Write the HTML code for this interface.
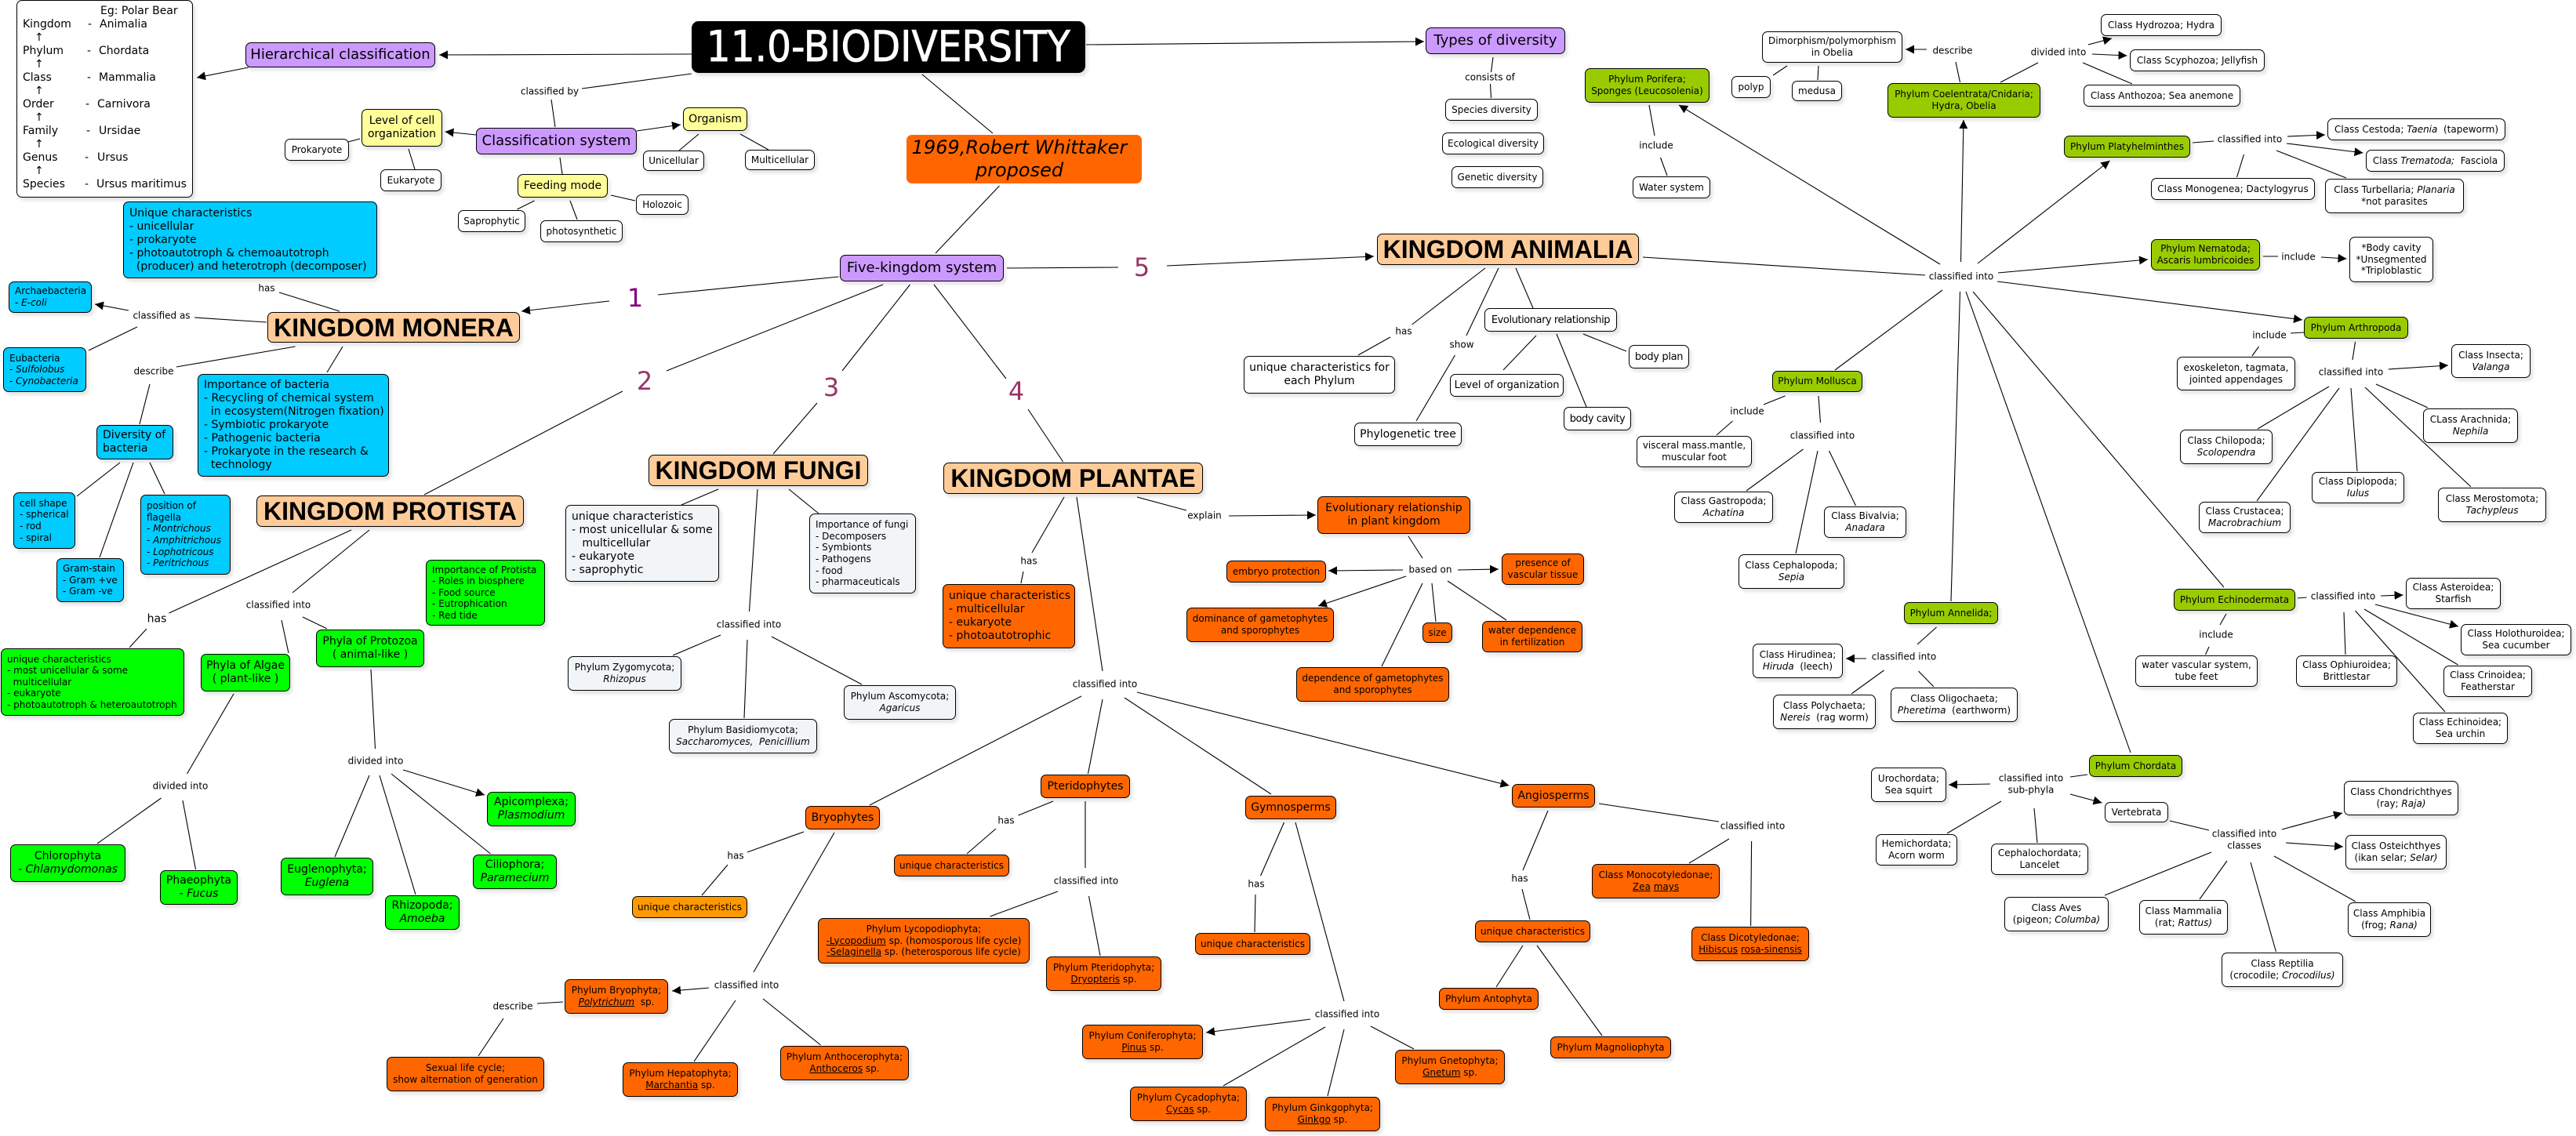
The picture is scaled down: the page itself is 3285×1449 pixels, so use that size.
<!DOCTYPE html>
<html lang="en"><head><meta charset="utf-8"><title>11.0-BIODIVERSITY</title>
<style>
html,body{margin:0;padding:0;background:#fff}
#c{position:relative;width:3285px;height:1449px;overflow:hidden;background:#fff;font:12px/14.6px "DejaVu Sans","Liberation Sans",sans-serif;color:#000}
svg{position:absolute;left:0;top:0}
.n{position:absolute;box-sizing:border-box;border:1px solid #000;border-radius:7px;box-shadow:3px 4px 4px rgba(0,0,0,.11);display:flex;align-items:center;justify-content:center;text-align:center;white-space:nowrap;background:#fff}
.n p{margin:0}
.L{justify-content:flex-start;text-align:left;padding-left:7px}
.f14{font-size:14px;line-height:17px}
.f13{font-size:13px;line-height:17px}
.f18{font-size:18px;line-height:22px}
.k{font:bold 32px/38px "Liberation Sans",sans-serif;background:#FFCC99}
.pu{background:#CC99FF}.ye{background:#FFFF99}.bl{background:#00CCFF}.gr{background:#00FF00}.or{background:#FF6600}.li{background:#99CC00}.go{background:#FF9900}.gy{background:#F1F5F7}
.l{position:absolute;transform:translate(-50%,-50%);white-space:nowrap;text-align:center;background:transparent}
.d{position:absolute;transform:translate(-50%,-50%);font-size:32px;line-height:36px;color:#993366}
.r{position:absolute;left:29px;font-size:14px;line-height:17px;white-space:nowrap}
.r span{position:absolute;top:0}
</style></head><body><div id="c">
<svg width="3285" height="1449" viewBox="0 0 3285 1449" fill="none" stroke="#000" stroke-width="1.1">
<defs><marker id="a" markerUnits="userSpaceOnUse" markerWidth="12" markerHeight="12" refX="11" refY="5.5" orient="auto"><path d="M0 0L11 5.5 0 11z" fill="#000" stroke="none"/></marker></defs>
<path d="M882 94L742 113M703 127L708 162M459 177L444 181M521 190L529 216M714 201L717 222M681.5 256L659.5 267M727 256L736 280M779 249L810 256M891 171L866 192M944 171L980 191M1176 95L1266 170M1274.5 237L1193 323M1284 342L1426 341M1069.5 353L839 376M1126 363L850 473M794 499L541 631M1160.5 363L1074 473M1042 514L986 579M1191 363L1283 483M1311 522L1355.6 589
M433 397L356 373M340 411L248 405M175 417L113 447M376.5 442L225 468M437 442L417 475M191 490L178 541M153 590L98 633M170 590L127 711M191 590L210 630
M448 676L215.5 782M187 802L165 826M471 676L373 756M359 791L368 833M386 787L417 802M298 885L238.5 987M473 854L478.5 955M205.5 1018L124 1076M233 1021L249.5 1109M471 989L427 1093M484 989L530 1141M499 987L625.5 1089
M916 624L869 644M966 624L955.5 780M1006 624L1044 655M919 810L858 836M953 816L949 916M984 812L1099 873
M1357 634L1316 705M1305 729L1302 744M1373 634L1406 856M1450 634L1513 651M1796 684L1814 712M1814 744L1762 850M1826 744L1831 793M1846 741L1921 791
M1379 888L1109 1027M1406 892L1387.5 987M1434 890L1621 1013
M1025 1061L953 1087M928 1103L895 1142M1064 1062L961 1240M938 1276L885 1354M973 1274L1046.5 1333M718 1278L685 1280M642 1299L610 1347
M1343 1022L1298.5 1040M1270 1057L1233 1089M1384 1022L1384 1107M1349 1137L1262.5 1169M1388.5 1143L1403 1219
M1637.5 1049L1607.6 1117M1601 1141L1600 1189M1652 1049L1714 1277M1690 1310L1560 1385M1714 1313L1693 1398M1748 1309L1803 1338
M1974 1034L1942 1110M1941 1134L1951 1173M1942 1206L1908 1259M1960 1206L2043 1321M2039 1025L2192 1048M2205 1070L2154 1101M2233.6 1073L2232.6 1181
M1894 342L1800.6 414M1773 430L1732 453M1911 342L1870 428M1855.5 453L1806 537M1933 342L1955 393M1959 428L1917 472M1985 426L2023 519M2019 426L2074 448M2095 328L2455 351
M1904 73L1901.5 92M1900.5 107L1901.5 125M2103 134L2110 173M2117.5 201L2126 224
M2477 370L2340 472M2499.5 372L2488 767M2507 372L2717 960M2516 372L2836 749
M2499.5 105L2494 79M2279 84L2261 96M2319 84L2318 102M2551 105L2599 80M2656 80L2719 107
M2796 182L2823 180M2861.5 197L2852.5 226M2903 192L2992 227M2886 327L2905 327M2938 424L2921 425M2880.5 442L2872 454M3003.5 436L3000 459
M3030 490L3096 520M2970 493L2879 547M2983 495L2878 639M2998 495L3006 601M3016 494L3151 621
M2930 763L2941.5 762M2989 781L2991 835M3015 777L3134.5 848M3003.5 779L3118 908M2839 783L2831 797M2817 825L2812.5 835
M2276.5 505L2249 516M2209.5 537L2189 555M2319 505L2321.5 539M2299.5 573L2227 626M2318 575L2290 706M2332.5 575L2366.5 645
M2469.5 800L2445 822M2402.5 855L2361 885M2446.5 856L2466 876
M2662 988L2640 991M2552 1022L2483 1063M2594 1031L2598 1075M2767 1047L2817 1059M2820 1087L2684 1142M2840 1098L2805 1147M2870 1100L2902.5 1214M2900 1092L3004 1150"/>
<g marker-end="url(#a)">
<path d="M882 69L560 70"/><path d="M317 86L251 99"/><path d="M607 172L567.5 168"/><path d="M812 167L868 159"/>
<path d="M1488 339L1752 327"/><path d="M1385 57L1816 53"/><path d="M777 384L665 397"/><path d="M164 396L121 388"/><path d="M514 982L618 1014"/>
<path d="M1567 658L1678 657"/><path d="M1789 727L1694 728"/><path d="M1859 727L1911 726"/><path d="M1793 735L1681 773"/>
<path d="M1450 883L1924.5 1002"/><path d="M904 1260L857 1264"/><path d="M1671 1300L1538 1317"/>
<path d="M2474 337L2141 134"/><path d="M2500.5 334L2504 153"/><path d="M2522 336L2690.5 205"/><path d="M2548 348L2739 331"/><path d="M2547 359L2936 408"/>
<path d="M2457 63L2430 63"/><path d="M2663 57L2693 49"/><path d="M2668 69L2712.5 71"/><path d="M2917 174L2965 172"/><path d="M2916 183L3013.5 195"/><path d="M2960 328L2992.5 330"/><path d="M3045.6 471L3122 466"/>
<path d="M3036 760L3064.6 759"/><path d="M3029 771L3135 799"/><path d="M2380 840L2354 840"/><path d="M2538 1000L2485 1001"/><path d="M2640 1013L2680.5 1024"/><path d="M2910 1058L2987 1037"/><path d="M2915 1075L2988 1080"/>
</g>
</svg>

<div class="n" style="left:21px;top:0;width:225px;height:252px"></div>
<div class="r" style="top:6px;left:128px">Eg: Polar Bear</div>
<div class="r" style="top:23px">Kingdom<span style="left:83px">-</span><span style="left:98px">Animalia</span></div>
<div class="r" style="top:40px;left:44px">↑</div>
<div class="r" style="top:57px">Phylum<span style="left:82px">-</span><span style="left:97px">Chordata</span></div>
<div class="r" style="top:74px;left:44px">↑</div>
<div class="r" style="top:91px">Class<span style="left:82px">-</span><span style="left:97px">Mammalia</span></div>
<div class="r" style="top:108px;left:44px">↑</div>
<div class="r" style="top:125px">Order<span style="left:80px">-</span><span style="left:95px">Carnivora</span></div>
<div class="r" style="top:142px;left:44px">↑</div>
<div class="r" style="top:159px">Family<span style="left:81px">-</span><span style="left:97px">Ursidae</span></div>
<div class="r" style="top:176px;left:44px">↑</div>
<div class="r" style="top:193px">Genus<span style="left:79px">-</span><span style="left:95px">Ursus</span></div>
<div class="r" style="top:210px;left:44px">↑</div>
<div class="r" style="top:227px">Species<span style="left:79px">-</span><span style="left:94px">Ursus maritimus</span></div>

<div class="n" style="left:882px;top:27px;width:502px;height:66px;background:#000;color:#fff;font-size:54px;line-height:60px;border-radius:9px"><p style="transform:scale(.9,1);-webkit-text-stroke:.8px #fff">11.0-BIODIVERSITY</p></div>
<div class="n pu f18" style="left:313px;top:54px;width:242px;height:32px"><p>Hierarchical classification</p></div>
<div class="n ye f14" style="left:461px;top:139px;width:103px;height:48px"><p>Level of cell<br>organization</p></div>
<div class="n" style="left:363px;top:177px;width:82px;height:28px"><p>Prokaryote</p></div>
<div class="n" style="left:485px;top:216px;width:78px;height:28px"><p>Eukaryote</p></div>
<div class="n pu f18" style="left:607px;top:163px;width:205px;height:34px"><p>Classification system</p></div>
<div class="n ye f14" style="left:871px;top:137px;width:82px;height:30px"><p>Organism</p></div>
<div class="n ye f14" style="left:660px;top:222px;width:115px;height:30px"><p>Feeding mode</p></div>
<div class="n" style="left:584px;top:268px;width:86px;height:28px"><p>Saprophytic</p></div>
<div class="n" style="left:689px;top:281px;width:105px;height:28px"><p>photosynthetic</p></div>
<div class="n" style="left:820px;top:192px;width:78px;height:26px"><p>Unicellular</p></div>
<div class="n" style="left:950px;top:191px;width:89px;height:26px"><p>Multicellular</p></div>
<div class="n" style="left:811px;top:248px;width:67px;height:26px"><p>Holozoic</p></div>
<div class="n bl L f14" style="left:157px;top:257px;width:324px;height:98px"><p>Unique characteristics<br>- unicellular<br>- prokaryote<br>- photoautotroph &amp; chemoautotroph<br>&nbsp;&nbsp;(producer) and heterotroph (decomposer)</p></div>
<div class="n bl L" style="left:11px;top:359px;width:106px;height:40px"><p>Archaebacteria<br>- <i>E-coli</i></p></div>
<div class="n bl L" style="left:4px;top:443px;width:106px;height:57px"><p>Eubacteria<br>- <i>Sulfolobus</i><br>- <i>Cynobacteria</i></p></div>
<div class="n k" style="left:341px;top:398px;width:322px;height:39px"><p>KINGDOM MONERA</p></div>
<div class="n bl L f14" style="left:252px;top:477px;width:244px;height:131px"><p>Importance of bacteria<br>- Recycling of chemical system<br>&nbsp;&nbsp;in ecosystem(Nitrogen fixation)<br>- Symbiotic prokaryote<br>- Pathogenic bacteria<br>- Prokaryote in the research &amp;<br>&nbsp;&nbsp;technology</p></div>
<div class="n bl L f14" style="left:123px;top:542px;width:98px;height:44px"><p>Diversity of<br>bacteria</p></div>
<div class="n bl L" style="left:17px;top:628px;width:79px;height:72px"><p>cell shape<br>- spherical<br>- rod<br>- spiral</p></div>
<div class="n bl L" style="left:72px;top:712px;width:86px;height:56px"><p>Gram-stain<br>- Gram +ve<br>- Gram -ve</p></div>
<div class="n bl L" style="left:179px;top:631px;width:115px;height:102px"><p>position of<br>flagella<br>- <i>Montrichous</i><br>- <i>Amphitrichous</i><br>- <i>Lophotricous</i><br>- <i>Peritrichous</i></p></div>
<div class="n k" style="left:327px;top:632px;width:341px;height:40px"><p>KINGDOM PROTISTA</p></div>
<div class="n gr L" style="left:543px;top:714px;width:152px;height:84px"><p>Importance of Protista<br>- Roles in biosphere<br>- Food source<br>- Eutrophication<br>- Red tide</p></div>
<div class="n gr f14" style="left:403px;top:803px;width:138px;height:48px"><p>Phyla of Protozoa<br>( animal-like )</p></div>
<div class="n gr f14" style="left:256px;top:834px;width:114px;height:48px"><p>Phyla of Algae<br>( plant-like )</p></div>
<div class="n gr L" style="left:1px;top:827px;width:234px;height:86px"><p>unique characteristics<br>- most unicellular &amp; some<br>&nbsp;&nbsp;multicellular<br>- eukaryote<br>- photoautotroph &amp; heteroautotroph</p></div>
<div class="n gr f14" style="left:13px;top:1077px;width:147px;height:48px"><p>Chlorophyta<br>- <i>Chlamydomonas</i></p></div>
<div class="n gr f14" style="left:204px;top:1110px;width:99px;height:44px"><p>Phaeophyta<br>- <i>Fucus</i></p></div>
<div class="n gr f14" style="left:358px;top:1094px;width:118px;height:48px"><p>Euglenophyta;<br><i>Euglena</i></p></div>
<div class="n gr f14" style="left:491px;top:1142px;width:95px;height:44px"><p>Rhizopoda;<br><i>Amoeba</i></p></div>
<div class="n gr f14" style="left:603px;top:1090px;width:107px;height:44px"><p>Ciliophora;<br><i>Paramecium</i></p></div>
<div class="n gr f14" style="left:621px;top:1010px;width:113px;height:44px"><p>Apicomplexa;<br><i>Plasmodium</i></p></div>
<div class="n or" style="left:493px;top:1348px;width:201px;height:44px"><p>Sexual life cycle;<br>show alternation of generation</p></div>
<div class="n or" style="left:720px;top:1249px;width:132px;height:44px"><p>Phylum Bryophyta;<br><u><i>Polytrichum</i></u>&nbsp; sp.</p></div>
<div class="n or" style="left:794px;top:1355px;width:147px;height:44px"><p>Phylum Hepatophyta;<br><u>Marchantia</u> sp.</p></div>
<div class="n or" style="left:995px;top:1334px;width:164px;height:44px"><p>Phylum Anthocerophyta;<br><u>Anthoceros</u> sp.</p></div>
<div class="n or f14" style="left:1027px;top:1028px;width:95px;height:30px"><p>Bryophytes</p></div>
<div class="n go" style="left:806px;top:1143px;width:147px;height:28px"><p>unique characteristics</p></div>
<div class="n or f14" style="left:1327px;top:988px;width:114px;height:30px"><p>Pteridophytes</p></div>
<div class="n or" style="left:1140px;top:1090px;width:147px;height:28px"><p>unique characteristics</p></div>
<div class="n or" style="left:1043px;top:1171px;width:270px;height:58px"><p>Phylum Lycopodiophyta;<br><u>-Lycopodium</u> sp. (homosporous life cycle)<br><u>-Selaginella</u> sp. (heterosporous life cycle)</p></div>
<div class="n or" style="left:1334px;top:1220px;width:147px;height:44px"><p>Phylum Pteridophyta;<br><u>Dryopteris</u> sp.</p></div>
<div class="n or f14" style="left:1588px;top:1015px;width:116px;height:30px"><p>Gymnosperms</p></div>
<div class="n or" style="left:1524px;top:1190px;width:147px;height:28px"><p>unique characteristics</p></div>
<div class="n or" style="left:1380px;top:1307px;width:154px;height:44px"><p>Phylum Coniferophyta;<br><u>Pinus</u> sp.</p></div>
<div class="n or" style="left:1441px;top:1386px;width:149px;height:44px"><p>Phylum Cycadophyta;<br><u>Cycas</u> sp.</p></div>
<div class="n or" style="left:1613px;top:1399px;width:147px;height:44px"><p>Phylum Ginkgophyta;<br><u>Ginkgo</u> sp.</p></div>
<div class="n or" style="left:1779px;top:1339px;width:140px;height:44px"><p>Phylum Gnetophyta;<br><u>Gnetum</u> sp.</p></div>
<div class="n or f14" style="left:1928px;top:1000px;width:106px;height:30px"><p>Angiosperms</p></div>
<div class="n or" style="left:1881px;top:1174px;width:147px;height:28px"><p>unique characteristics</p></div>
<div class="n or" style="left:1835px;top:1260px;width:127px;height:28px"><p>Phylum Antophyta</p></div>
<div class="n or" style="left:1977px;top:1322px;width:154px;height:28px"><p>Phylum Magnoliophyta</p></div>
<div class="n or" style="left:2030px;top:1102px;width:163px;height:44px"><p>Class Monocotyledonae;<br><u>Zea</u> <u>mays</u></p></div>
<div class="n or" style="left:2157px;top:1182px;width:150px;height:44px"><p>Class Dicotyledonae;<br><u>Hibiscus</u> <u>rosa-sinensis</u></p></div>

<div class="n or" style="left:1156px;top:172px;width:300px;height:62px;border-color:#FF6600;font-size:24px;line-height:29px;box-shadow:none;padding-right:12px"><p><i>1969,Robert Whittaker<br>proposed</i></p></div>
<div class="n pu f18" style="left:1071px;top:325px;width:209px;height:34px"><p>Five-kingdom system</p></div>
<div class="n k" style="left:827px;top:580px;width:280px;height:40px"><p>KINGDOM FUNGI</p></div>
<div class="n k" style="left:1203px;top:590px;width:331px;height:40px"><p>KINGDOM PLANTAE</p></div>
<div class="n gy L f14" style="left:721px;top:644px;width:196px;height:98px"><p>unique characteristics<br>- most unicellular &amp; some<br>&nbsp;&nbsp;&nbsp;multicellular<br>- eukaryote<br>- saprophytic</p></div>
<div class="n gy L" style="left:1032px;top:655px;width:136px;height:102px"><p>Importance of fungi<br>- Decomposers<br>- Symbionts<br>- Pathogens<br>- food<br>- pharmaceuticals</p></div>
<div class="n gy" style="left:724px;top:837px;width:145px;height:44px"><p>Phylum Zygomycota;<br><i>Rhizopus</i></p></div>
<div class="n gy" style="left:1076px;top:874px;width:143px;height:44px"><p>Phylum Ascomycota;<br><i>Agaricus</i></p></div>
<div class="n gy" style="left:853px;top:917px;width:189px;height:44px"><p>Phylum Basidiomycota;<br><i>Saccharomyces,&nbsp; Penicillium</i></p></div>
<div class="n or L f14" style="left:1202px;top:745px;width:169px;height:82px"><p>unique characteristics<br>- multicellular<br>- eukaryote<br>- photoautotrophic</p></div>

<div class="n pu f18" style="left:1818px;top:35px;width:178px;height:34px"><p>Types of diversity</p></div>
<div class="n" style="left:1843px;top:126px;width:118px;height:28px"><p>Species diversity</p></div>
<div class="n" style="left:1839px;top:169px;width:130px;height:28px"><p>Ecological diversity</p></div>
<div class="n" style="left:1851px;top:212px;width:117px;height:28px"><p>Genetic diversity</p></div>
<div class="n li" style="left:2021px;top:87px;width:159px;height:44px"><p>Phylum Porifera;<br>Sponges (Leucosolenia)</p></div>
<div class="n" style="left:2082px;top:225px;width:99px;height:28px"><p>Water system</p></div>
<div class="n" style="left:2247px;top:40px;width:179px;height:40px"><p>Dimorphism/polymorphism<br>in Obelia</p></div>
<div class="n" style="left:2208px;top:97px;width:50px;height:28px"><p>polyp</p></div>
<div class="n" style="left:2285px;top:103px;width:64px;height:26px"><p>medusa</p></div>
<div class="n li" style="left:2407px;top:106px;width:195px;height:44px"><p>Phylum Coelentrata/Cnidaria;<br>Hydra, Obelia</p></div>
<div class="n k" style="left:1756px;top:298px;width:334px;height:40px"><p>KINGDOM ANIMALIA</p></div>
<div class="n f14" style="left:1586px;top:454px;width:193px;height:48px"><p>unique characteristics for<br>each Phylum</p></div>
<div class="n f13" style="left:1893px;top:393px;width:169px;height:30px;letter-spacing:-.44px"><p>Evolutionary relationship</p></div>
<div class="n f13" style="left:2077px;top:440px;width:77px;height:30px;letter-spacing:-.35px"><p>body plan</p></div>
<div class="n f13" style="left:1849px;top:477px;width:145px;height:29px;letter-spacing:-.1px"><p>Level of organization</p></div>
<div class="n f13" style="left:1994px;top:519px;width:86px;height:30px;letter-spacing:-.45px"><p>body cavity</p></div>
<div class="n f14" style="left:1727px;top:539px;width:137px;height:30px"><p>Phylogenetic tree</p></div>
<div class="n or f14" style="left:1680px;top:633px;width:195px;height:48px"><p>Evolutionary relationship<br>in plant kingdom</p></div>
<div class="n or" style="left:1564px;top:715px;width:127px;height:28px"><p>embryo protection</p></div>
<div class="n or" style="left:1915px;top:706px;width:105px;height:40px"><p>presence of<br>vascular tissue</p></div>
<div class="n or" style="left:1513px;top:775px;width:188px;height:44px"><p>dominance of gametophytes<br>and sporophytes</p></div>
<div class="n or" style="left:1814px;top:794px;width:38px;height:26px"><p>size</p></div>
<div class="n or" style="left:1890px;top:792px;width:128px;height:40px"><p>water dependence<br>in fertilization</p></div>
<div class="n or" style="left:1653px;top:851px;width:195px;height:44px"><p>dependence of gametophytes<br>and sporophytes</p></div>
<div class="n li" style="left:2260px;top:473px;width:115px;height:27px"><p>Phylum Mollusca</p></div>
<div class="n" style="left:2087px;top:556px;width:147px;height:40px"><p>visceral mass.mantle,<br>muscular foot</p></div>
<div class="n" style="left:2135px;top:627px;width:126px;height:40px"><p>Class Gastropoda;<br><i>Achatina</i></p></div>
<div class="n" style="left:2326px;top:646px;width:105px;height:40px"><p>Class Bivalvia;<br><i>Anadara</i></p></div>
<div class="n" style="left:2217px;top:707px;width:135px;height:44px"><p>Class Cephalopoda;<br><i>Sepia</i></p></div>
<div class="n" style="left:2235px;top:821px;width:115px;height:44px"><p>Class Hirudinea;<br><i>Hiruda</i>&nbsp; (leech)</p></div>
<div class="n" style="left:2261px;top:886px;width:131px;height:44px"><p>Class Polychaeta;<br><i>Nereis</i>&nbsp; (rag worm)</p></div>
<div class="n li" style="left:2428px;top:768px;width:120px;height:28px"><p>Phylum Annelida;</p></div>
<div class="n" style="left:2411px;top:877px;width:162px;height:44px"><p>Class Oligochaeta;<br><i>Pheretima</i>&nbsp; (earthworm)</p></div>

<div class="n" style="left:2679px;top:18px;width:154px;height:28px"><p>Class Hydrozoa; Hydra</p></div>
<div class="n" style="left:2716px;top:63px;width:172px;height:28px"><p>Class Scyphozoa; Jellyfish</p></div>
<div class="n" style="left:2657px;top:108px;width:200px;height:28px"><p>Class Anthozoa; Sea anemone</p></div>
<div class="n li" style="left:2632px;top:173px;width:161px;height:28px"><p>Phylum Platyhelminthes</p></div>
<div class="n" style="left:2968px;top:151px;width:227px;height:28px"><p>Class Cestoda; <i>Taenia</i>&nbsp; (tapeworm)</p></div>
<div class="n" style="left:3017px;top:191px;width:177px;height:28px"><p>Class <i>Trematoda;</i>&nbsp; Fasciola</p></div>
<div class="n" style="left:2743px;top:227px;width:209px;height:28px"><p>Class Monogenea; Dactylogyrus</p></div>
<div class="n" style="left:2965px;top:228px;width:177px;height:44px"><p>Class Turbellaria; <i>Planaria</i><br>*not parasites</p></div>
<div class="n li" style="left:2743px;top:305px;width:139px;height:40px"><p>Phylum Nematoda;<br>Ascaris lumbricoides</p></div>
<div class="n" style="left:2996px;top:302px;width:107px;height:58px"><p>*Body cavity<br>*Unsegmented<br>*Triploblastic</p></div>
<div class="n li" style="left:2938px;top:404px;width:133px;height:28px"><p>Phylum Arthropoda</p></div>
<div class="n" style="left:2776px;top:455px;width:151px;height:43px"><p>exoskeleton, tagmata,<br>jointed appendages</p></div>
<div class="n" style="left:3126px;top:439px;width:101px;height:43px"><p>Class Insecta;<br><i>Valanga</i></p></div>
<div class="n" style="left:2780px;top:548px;width:118px;height:44px"><p>Class Chilopoda;<br><i>Scolopendra</i></p></div>
<div class="n" style="left:3090px;top:521px;width:121px;height:44px"><p>CLass Arachnida;<br><i>Nephila</i></p></div>
<div class="n" style="left:2948px;top:602px;width:118px;height:40px"><p>Class Diplopoda;<br><i>Iulus</i></p></div>
<div class="n" style="left:3109px;top:622px;width:138px;height:44px"><p>Class Merostomota;<br><i>Tachypleus</i></p></div>
<div class="n" style="left:2804px;top:640px;width:117px;height:40px"><p>Class Crustacea;<br><i>Macrobrachium</i></p></div>
<div class="n li" style="left:2772px;top:751px;width:155px;height:28px"><p>Phylum Echinodermata</p></div>
<div class="n" style="left:2723px;top:836px;width:156px;height:40px"><p>water vascular system,<br>tube feet</p></div>
<div class="n" style="left:3068px;top:737px;width:121px;height:40px"><p>Class Asteroidea;<br>Starfish</p></div>
<div class="n" style="left:3138px;top:796px;width:141px;height:40px"><p>Class Holothuroidea;<br>Sea cucumber</p></div>
<div class="n" style="left:2928px;top:836px;width:129px;height:40px"><p>Class Ophiuroidea;<br>Brittlestar</p></div>
<div class="n" style="left:3116px;top:849px;width:113px;height:40px"><p>Class Crinoidea;<br>Featherstar</p></div>
<div class="n" style="left:3077px;top:909px;width:121px;height:40px"><p>Class Echinoidea;<br>Sea urchin</p></div>
<div class="n li" style="left:2664px;top:963px;width:119px;height:28px"><p>Phylum Chordata</p></div>
<div class="n" style="left:2386px;top:979px;width:96px;height:44px"><p>Urochordata;<br>Sea squirt</p></div>
<div class="n" style="left:2392px;top:1064px;width:104px;height:40px"><p>Hemichordata;<br>Acorn worm</p></div>
<div class="n" style="left:2539px;top:1076px;width:124px;height:40px"><p>Cephalochordata;<br>Lancelet</p></div>
<div class="n" style="left:2684px;top:1023px;width:81px;height:26px"><p>Vertebrata</p></div>
<div class="n" style="left:2556px;top:1144px;width:133px;height:44px"><p>Class Aves<br>(pigeon; <i>Columba)</i></p></div>
<div class="n" style="left:2728px;top:1148px;width:113px;height:44px"><p>Class Mammalia<br>(rat; <i>Rattus)</i></p></div>
<div class="n" style="left:2833px;top:1215px;width:155px;height:44px"><p>Class Reptilia<br>(crocodile; <i>Crocodilus)</i></p></div>
<div class="n" style="left:2994px;top:1151px;width:106px;height:44px"><p>Class Amphibia<br>(frog; <i>Rana)</i></p></div>
<div class="n" style="left:2989px;top:996px;width:146px;height:44px"><p>Class Chondrichthyes<br>(ray; <i>Raja)</i></p></div>
<div class="n" style="left:2991px;top:1065px;width:129px;height:44px"><p>Class Osteichthyes<br>(ikan selar; <i>Selar)</i></p></div>

<div class="l" style="left:701px;top:117px">classified by</div>
<div class="l" style="left:340px;top:368px">has</div>
<div class="l" style="left:206px;top:403px">classified as</div>
<div class="l" style="left:196px;top:474px">describe</div>
<div class="l f14" style="left:200px;top:790px">has</div>
<div class="l" style="left:355px;top:772px">classified into</div>
<div class="l" style="left:230px;top:1003px">divided into</div>
<div class="l" style="left:479px;top:971px">divided into</div>
<div class="l" style="left:654px;top:1284px">describe</div>
<div class="l" style="left:1900px;top:99px">consists of</div>
<div class="l" style="left:2112px;top:186px">include</div>
<div class="l" style="left:2490px;top:65px">describe</div>
<div class="l" style="left:2625px;top:67px">divided into</div>
<div class="l" style="left:1790px;top:423px">has</div>
<div class="l" style="left:1864px;top:440px">show</div>
<div class="l" style="left:2869px;top:178px">classified into</div>
<div class="l" style="left:2501px;top:353px">classified into</div>
<div class="l" style="left:2931px;top:328px">include</div>
<div class="l" style="left:2894px;top:428px">include</div>
<div class="l" style="left:2998px;top:475px">classified into</div>
<div class="l" style="left:1312px;top:716px">has</div>
<div class="l" style="left:955px;top:797px">classified into</div>
<div class="l" style="left:1409px;top:873px">classified into</div>
<div class="l" style="left:1536px;top:658px">explain</div>
<div class="l" style="left:2228px;top:525px">include</div>
<div class="l" style="left:2324px;top:556px">classified into</div>
<div class="l" style="left:1824px;top:727px">based on</div>
<div class="l" style="left:2428px;top:838px">classified into</div>
<div class="l" style="left:2988px;top:761px">classified into</div>
<div class="l" style="left:2826px;top:810px">include</div>
<div class="l" style="left:938px;top:1092px">has</div>
<div class="l" style="left:1283px;top:1047px">has</div>
<div class="l" style="left:1385px;top:1124px">classified into</div>
<div class="l" style="left:1602px;top:1128px">has</div>
<div class="l" style="left:952px;top:1257px">classified into</div>
<div class="l" style="left:1718px;top:1294px">classified into</div>
<div class="l" style="left:1938px;top:1121px">has</div>
<div class="l" style="left:2235px;top:1054px">classified into</div>
<div class="l" style="left:2590px;top:1000px">classified into<br>sub-phyla</div>
<div class="l" style="left:2862px;top:1071px">classified into<br>classes</div>

<div class="d" style="left:810px;top:380px;color:#800080">1</div>
<div class="d" style="left:822px;top:486px">2</div>
<div class="d" style="left:1060px;top:494px">3</div>
<div class="d" style="left:1296px;top:499px">4</div>
<div class="d" style="left:1456px;top:341px">5</div>
</div></body></html>
